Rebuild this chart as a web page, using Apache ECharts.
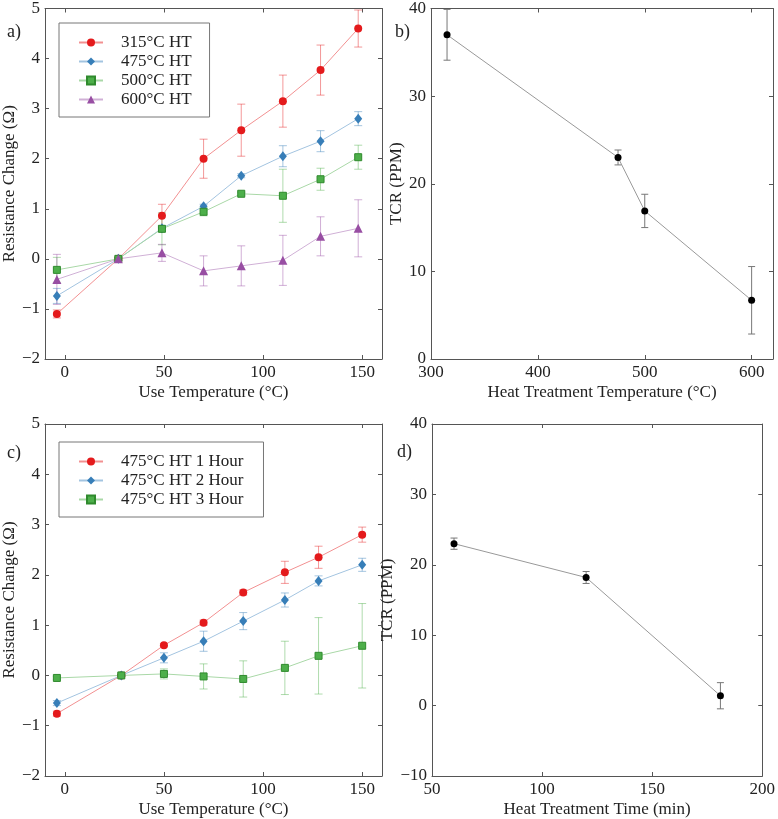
<!DOCTYPE html>
<html><head><meta charset="utf-8">
<script src="https://cdn.jsdelivr.net/npm/echarts@6/dist/echarts.min.js"></script>
<style>html,body{margin:0;padding:0;background:#fff}#c{width:778px;height:819px}</style>
</head><body><div id="c"></div>
<script>
// ---- Panel a: resistance change vs use temperature, by heat treatment temperature
const tempA = [-4, 27, 49, 70, 89, 110, 129, 148];
const namesA = ['315°C HT', '475°C HT', '500°C HT', '600°C HT'];
const valsA315 = [-1.1, 0, 0.86, 2.0, 2.57, 3.15, 3.77, 4.6];
const errA315 = [0.08, 0.03, 0.23, 0.39, 0.52, 0.52, 0.5, 0.37];
const valsA475 = [-0.74, 0, 0.61, 1.05, 1.66, 2.05, 2.35, 2.8];
const errA475 = [0.15, 0.03, 0.05, 0.04, 0.04, 0.21, 0.21, 0.14];
const valsA500 = [-0.22, 0, 0.6, 0.94, 1.3, 1.26, 1.59, 2.03];
const errA500 = [0.25, 0.03, 0.32, 0.08, 0.03, 0.53, 0.22, 0.24];
const valsA600 = [-0.41, 0, 0.12, -0.24, -0.14, -0.03, 0.45, 0.61];
const errA600 = [0.5, 0.03, 0.17, 0.3, 0.4, 0.5, 0.39, 0.57];

// ---- Panel b: TCR vs heat treatment temperature
const htTemp = [315, 475, 500, 600];
const tcrB = [37, 23, 16.9, 6.7];
const errB = [2.9, 0.85, 1.9, 3.85];

// ---- Panel c: resistance change vs use temperature, by heat treatment time
const tempC = [-4, 28.5, 50, 70, 90, 111, 128, 150];
const namesC = ['475°C HT 1 Hour', '475°C HT 2 Hour', '475°C HT 3 Hour'];
const valsC1 = [-0.76, 0, 0.6, 1.05, 1.65, 2.05, 2.35, 2.8];
const errC1 = [0.05, 0.02, 0.03, 0.05, 0.05, 0.22, 0.22, 0.15];
const valsC2 = [-0.55, 0, 0.35, 0.68, 1.08, 1.5, 1.88, 2.2];
const errC2 = [0.05, 0.02, 0.1, 0.2, 0.17, 0.14, 0.1, 0.13];
const valsC3 = [-0.05, 0, 0.03, -0.02, -0.07, 0.15, 0.39, 0.59];
const errC3 = [0.03, 0.02, 0.1, 0.25, 0.36, 0.53, 0.76, 0.84];

// ---- Panel d: TCR vs heat treatment time
const htTime = [60, 120, 181];
const tcrD = [23, 18.2, 1.4];
const errD = [0.8, 0.85, 1.86];

// ---- Tick labels
const ticksUseTemp = [0, 50, 100, 150];
const ticksRes = [-2, -1, 0, 1, 2, 3, 4, 5];
const ticksHtTemp = [300, 400, 500, 600];
const ticksTcrB = [0, 10, 20, 30, 40];
const ticksTime = [50, 100, 150, 200];
const ticksTcrD = [-10, 0, 10, 20, 30, 40];

const FONT = 'Liberation Serif';
const TXT = '#222';
const AX = '#555';

const fmt = v => (v < 0 ? '\u2212' + Math.abs(v) : String(v));

function xAxes(gi, min, max, ticks, name) {
  const common = {
    type: 'value', gridIndex: gi, min, max,
    axisLine: {show: true, onZero: false, lineStyle: {color: AX, width: 1}},
    axisTick: {show: true, inside: true, length: 4, customValues: ticks, lineStyle: {color: AX}},
    splitLine: {show: false}
  };
  return [
    Object.assign({}, common, {
      position: 'bottom',
      axisLabel: {customValues: ticks, color: TXT, fontFamily: FONT, fontSize: 17, margin: 5, formatter: fmt},
      name, nameLocation: 'middle', nameGap: 25,
      nameTextStyle: {color: TXT, fontFamily: FONT, fontSize: 17}
    }),
    Object.assign({}, common, {position: 'top', axisLabel: {show: false}})
  ];
}
function yAxes(gi, min, max, ticks, name, gap) {
  const common = {
    type: 'value', gridIndex: gi, min, max,
    axisLine: {show: true, onZero: false, lineStyle: {color: AX, width: 1}},
    axisTick: {show: true, inside: true, length: 4, customValues: ticks, lineStyle: {color: AX}},
    splitLine: {show: false}
  };
  return [
    Object.assign({}, common, {
      position: 'left',
      axisLabel: {customValues: ticks, color: TXT, fontFamily: FONT, fontSize: 17, margin: 5, formatter: fmt},
      name, nameLocation: 'middle', nameGap: gap,
      nameTextStyle: {color: TXT, fontFamily: FONT, fontSize: 17}
    }),
    Object.assign({}, common, {position: 'right', axisLabel: {show: false}})
  ];
}

function errSeries(xIdx, yIdx, xs, vs, es, color, cap, z) {
  return {
    type: 'custom', xAxisIndex: xIdx, yAxisIndex: yIdx, z, silent: true,
    data: xs.map((x, i) => [x, vs[i] - es[i], vs[i] + es[i]]),
    encode: {x: 0, y: [1, 2]},
    renderItem(params, api) {
      const x = api.value(0);
      const lo = api.coord([x, api.value(1)]);
      const hi = api.coord([x, api.value(2)]);
      const h = cap / 2;
      const style = {stroke: color, lineWidth: 1, fill: null};
      return {type: 'group', children: [
        {type: 'line', shape: {x1: lo[0], y1: lo[1], x2: hi[0], y2: hi[1]}, style},
        {type: 'line', shape: {x1: lo[0] - h, y1: lo[1], x2: lo[0] + h, y2: lo[1]}, style},
        {type: 'line', shape: {x1: hi[0] - h, y1: hi[1], x2: hi[0] + h, y2: hi[1]}, style}
      ]};
    }
  };
}
function lineSeries(name, xIdx, yIdx, xs, vs, color, light, symbol, size, border) {
  return {
    type: 'line', name, xAxisIndex: xIdx, yAxisIndex: yIdx, z: 5,
    data: xs.map((x, i) => [x, vs[i]]),
    symbol, symbolSize: size, showSymbol: true,
    itemStyle: {color, borderColor: border || color, borderWidth: border ? 1 : 0},
    lineStyle: {color: light, width: 1},
    animation: false
  };
}

const C = {
  red: ['#e41a1c', '#f29091', 'rgba(228,26,28,0.45)'],
  blue: ['#377eb8', '#a3c4e0', 'rgba(55,126,184,0.45)'],
  green: ['#4daf4a', '#a9d8a7', 'rgba(77,175,74,0.45)', '#2f8a2d'],
  purple: ['#984ea3', '#d0b0d6', 'rgba(152,78,163,0.45)']
};

const series = [];
// Panel a (xAxis 0, yAxis 0)
const aSets = [
  [namesA[0], valsA315, errA315, C.red, 'circle', 8],
  [namesA[1], valsA475, errA475, C.blue, 'diamond', [8, 10]],
  [namesA[2], valsA500, errA500, C.green, 'rect', 7],
  [namesA[3], valsA600, errA600, C.purple, 'triangle', 9]
];
aSets.forEach(s => {
  series.push(errSeries(0, 0, tempA, s[1], s[2], s[3][2], 8, 2));
  series.push(lineSeries(s[0], 0, 0, tempA, s[1], s[3][0], s[3][1], s[4], s[5], s[3][3]));
});
// Panel b (xAxis 2, yAxis 2)
series.push(errSeries(2, 2, htTemp, tcrB, errB, '#777', 7, 2));
series.push(lineSeries('b', 2, 2, htTemp, tcrB, '#000', '#999', 'circle', 7));
// Panel c (xAxis 4, yAxis 4)
const cSets = [
  [namesC[0], valsC1, errC1, C.red, 'circle', 8],
  [namesC[1], valsC2, errC2, C.blue, 'diamond', [8, 10]],
  [namesC[2], valsC3, errC3, C.green, 'rect', 7]
];
cSets.forEach(s => {
  series.push(errSeries(4, 4, tempC, s[1], s[2], s[3][2], 8, 2));
  series.push(lineSeries(s[0], 4, 4, tempC, s[1], s[3][0], s[3][1], s[4], s[5], s[3][3]));
});
// Panel d (xAxis 6, yAxis 6)
series.push(errSeries(6, 6, htTime, tcrD, errD, '#777', 7, 2));
series.push(lineSeries('d', 6, 6, htTime, tcrD, '#000', '#999', 'circle', 7));

const legendCommon = {
  orient: 'vertical', itemWidth: 24, itemHeight: 10, itemGap: 0,
  borderColor: '#777', borderWidth: 1, backgroundColor: '#fff',
  textStyle: {fontFamily: FONT, fontSize: 17, color: TXT, lineHeight: 19, padding: [0, 0, 0, 13]}
};

const option = {
  animation: false,
  textStyle: {fontFamily: FONT},
  grid: [
    {left: 41, top: 5, width: 341, height: 354},
    {left: 431, top: 5, width: 342, height: 354},
    {left: 41, top: 424, width: 341, height: 355},
    {left: 432, top: 424, width: 341, height: 354}
  ],
  xAxis: [].concat(
    xAxes(0, -10, 160, ticksUseTemp, 'Use Temperature (°C)'),
    xAxes(1, 300, 620, ticksHtTemp, 'Heat Treatment Temperature (°C)'),
    xAxes(2, -10, 160, ticksUseTemp, 'Use Temperature (°C)'),
    xAxes(3, 50, 200, ticksTime, 'Heat Treatment Time (min)')
  ),
  yAxis: [].concat(
    yAxes(0, -2, 5, ticksRes, 'Resistance Change (Ω)', 23),
    yAxes(1, 0, 40, ticksTcrB, 'TCR (PPM)', 22),
    yAxes(2, -2, 5, ticksRes, 'Resistance Change (Ω)', 23),
    yAxes(3, -10, 40, ticksTcrD, 'TCR (PPM)', 22)
  ),
  legend: [
    Object.assign({}, legendCommon, {data: namesA, left: 59, top: 23, padding: [10, 18, 8, 19]}),
    Object.assign({}, legendCommon, {data: namesC, left: 59, top: 442, padding: [10, 20, 8, 19]})
  ],
  graphic: [
    {type: 'text', left: 7, top: 23, style: {text: 'a)', font: '18px "Liberation Serif"', fill: TXT}},
    {type: 'text', left: 395, top: 23, style: {text: 'b)', font: '18px "Liberation Serif"', fill: TXT}},
    {type: 'text', left: 7, top: 444, style: {text: 'c)', font: '18px "Liberation Serif"', fill: TXT}},
    {type: 'text', left: 397, top: 443, style: {text: 'd)', font: '18px "Liberation Serif"', fill: TXT}}
  ],
  series
};

const chart = echarts.init(document.getElementById('c'), null, {renderer: 'canvas'});
chart.setOption(option);
</script>
</body></html>
